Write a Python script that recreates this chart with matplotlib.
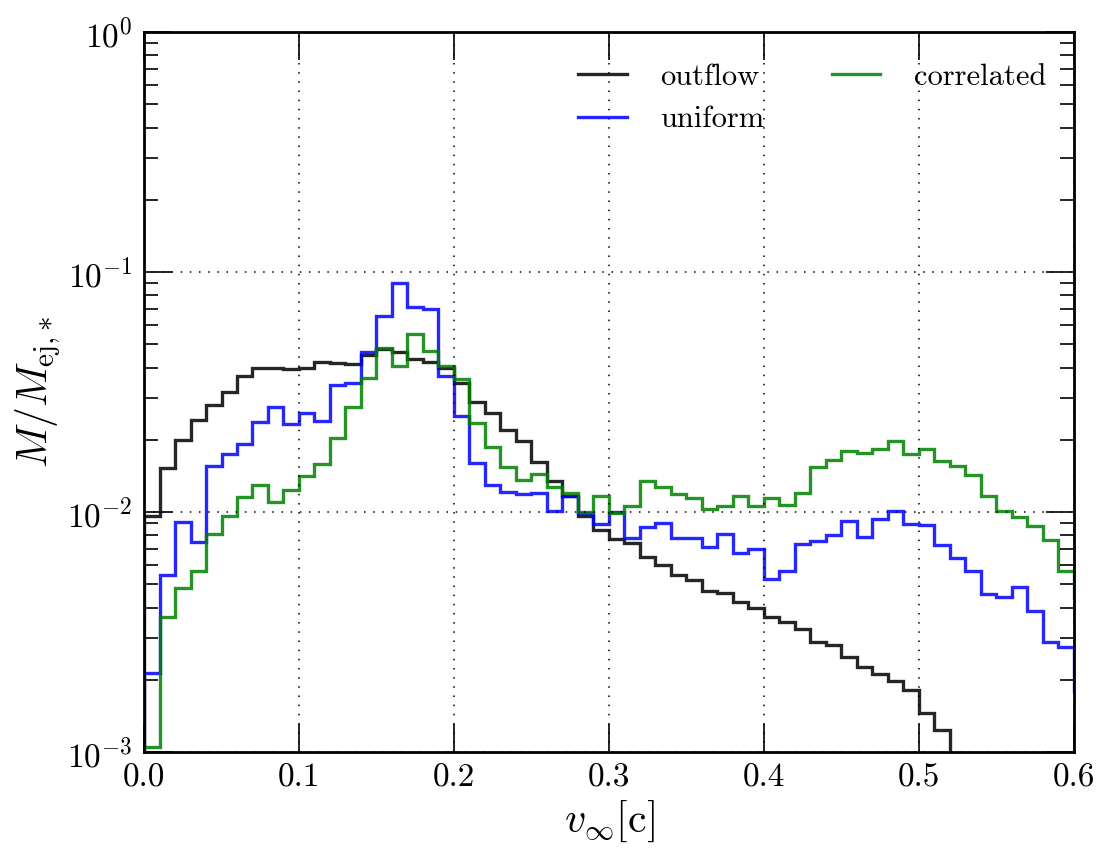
import numpy as np
import matplotlib
matplotlib.use("Agg")
import matplotlib.pyplot as plt

plt.rcParams['font.family'] = 'serif'
plt.rcParams['font.serif'] = ['cmr10']
plt.rcParams['mathtext.fontset'] = 'cm'
plt.rcParams['axes.formatter.use_mathtext'] = True

# bin edges: 0.01 wide, the last bin runs past the x limit
edges = np.round(np.arange(0.0, 0.611, 0.01), 2)

outflow = [0.0096, 0.0152, 0.0200, 0.0242, 0.0280, 0.0317, 0.0370, 0.0400, 0.0400, 0.0394,
           0.0400, 0.0422, 0.0416, 0.0414, 0.0450, 0.0478, 0.0466, 0.0434, 0.0423, 0.0397,
           0.0344, 0.0286, 0.0259, 0.0220, 0.0198, 0.0162, 0.0135, 0.0117, 0.0096, 0.0084,
           0.0077, 0.00745, 0.0065, 0.0060, 0.00545, 0.0052, 0.0047, 0.00461, 0.00423, 0.0040,
           0.00366, 0.00349, 0.00324, 0.00286, 0.00279, 0.0025, 0.00227, 0.00211, 0.00198, 0.00181,
           0.00146, 0.00124, 0, 0, 0, 0, 0, 0, 0, 0, 0]

uniform = [0.00214, 0.00546, 0.00912, 0.00752, 0.01555, 0.01745, 0.0192, 0.0237, 0.0273, 0.0232,
           0.0259, 0.0239, 0.0338, 0.0344, 0.0463, 0.0658, 0.0897, 0.0717, 0.0699, 0.0370,
           0.0251, 0.0160, 0.01296, 0.01216, 0.0119, 0.0120, 0.0101, 0.0117, 0.00987, 0.0089,
           0.00997, 0.00777, 0.00864, 0.0090, 0.00777, 0.00777, 0.00717, 0.0081, 0.00673, 0.00701,
           0.00526, 0.0057, 0.00736, 0.00757, 0.0080, 0.00917, 0.0079, 0.00935, 0.0101, 0.0089,
           0.00883, 0.00727, 0.00641, 0.00568, 0.00454, 0.00444, 0.00489, 0.00388, 0.00286, 0.00275,
           0.0018]

correlated = [0.00105, 0.00364, 0.00481, 0.00568, 0.0081, 0.00966, 0.0116, 0.0129, 0.01104, 0.0124,
              0.01413, 0.01585, 0.0203, 0.0275, 0.0363, 0.0481, 0.0407, 0.0550, 0.0469, 0.0407,
              0.0357, 0.0236, 0.0186, 0.01545, 0.0136, 0.0144, 0.01275, 0.0120, 0.0100, 0.0117,
              0.00987, 0.0106, 0.0135, 0.01275, 0.0119, 0.01148, 0.0103, 0.0106, 0.0117, 0.0106,
              0.0114, 0.01066, 0.01197, 0.01545, 0.0165, 0.01796, 0.01755, 0.01824, 0.0198, 0.0175,
              0.01836, 0.0163, 0.01555, 0.01426, 0.01166, 0.0101, 0.00957, 0.00874, 0.00764, 0.00566,
              0.0044]

labels = ["outflow", "uniform", "correlated"]
colors = ["k", "b", "g"]

fig = plt.figure(figsize=(11.12, 8.63), dpi=100)
ax = fig.add_axes([0.1295, 0.1286, 0.8363, 0.8343])
ax.set_yscale('log')

for vals, lab, col in zip([outflow, uniform, correlated], labels, colors):
    ax.stairs(vals, edges, baseline=0, color=col, lw=2.4, alpha=0.85, label=lab)

ax.set_xlim(0, 0.6)
ax.set_ylim(1e-3, 1)
ax.set_xticks([0.0, 0.1, 0.2, 0.3, 0.4, 0.5, 0.6])
ax.set_xticklabels(["0.0", "0.1", "0.2", "0.3", "0.4", "0.5", "0.6"])

ax.grid(True, which='major', color='k', ls=(0, (1, 5)), lw=1.1)
ax.tick_params(which='both', direction='in', top=True, right=True, labelsize=24, pad=8)
ax.tick_params(which='major', length=20, width=1.2)
ax.tick_params(which='minor', length=10, width=1.2)
for s in ax.spines.values():
    s.set_linewidth(2)

ax.set_xlabel(r"$v_\infty [{\rm c}]$", fontsize=30, labelpad=5)
ax.set_ylabel(r"$M/M_{\mathrm{ej},\!*}$", fontsize=30, labelpad=4)

handles = [plt.Line2D([], [], color=c, lw=2.4, alpha=0.85) for c in colors]
ax.legend(handles, labels, loc='upper right', ncol=2, frameon=False, fontsize=22,
          handlelength=1.6, handletextpad=1.1, columnspacing=2.2,
          bbox_to_anchor=(1.0, 0.995))

fig.savefig("out.png", dpi=100)
